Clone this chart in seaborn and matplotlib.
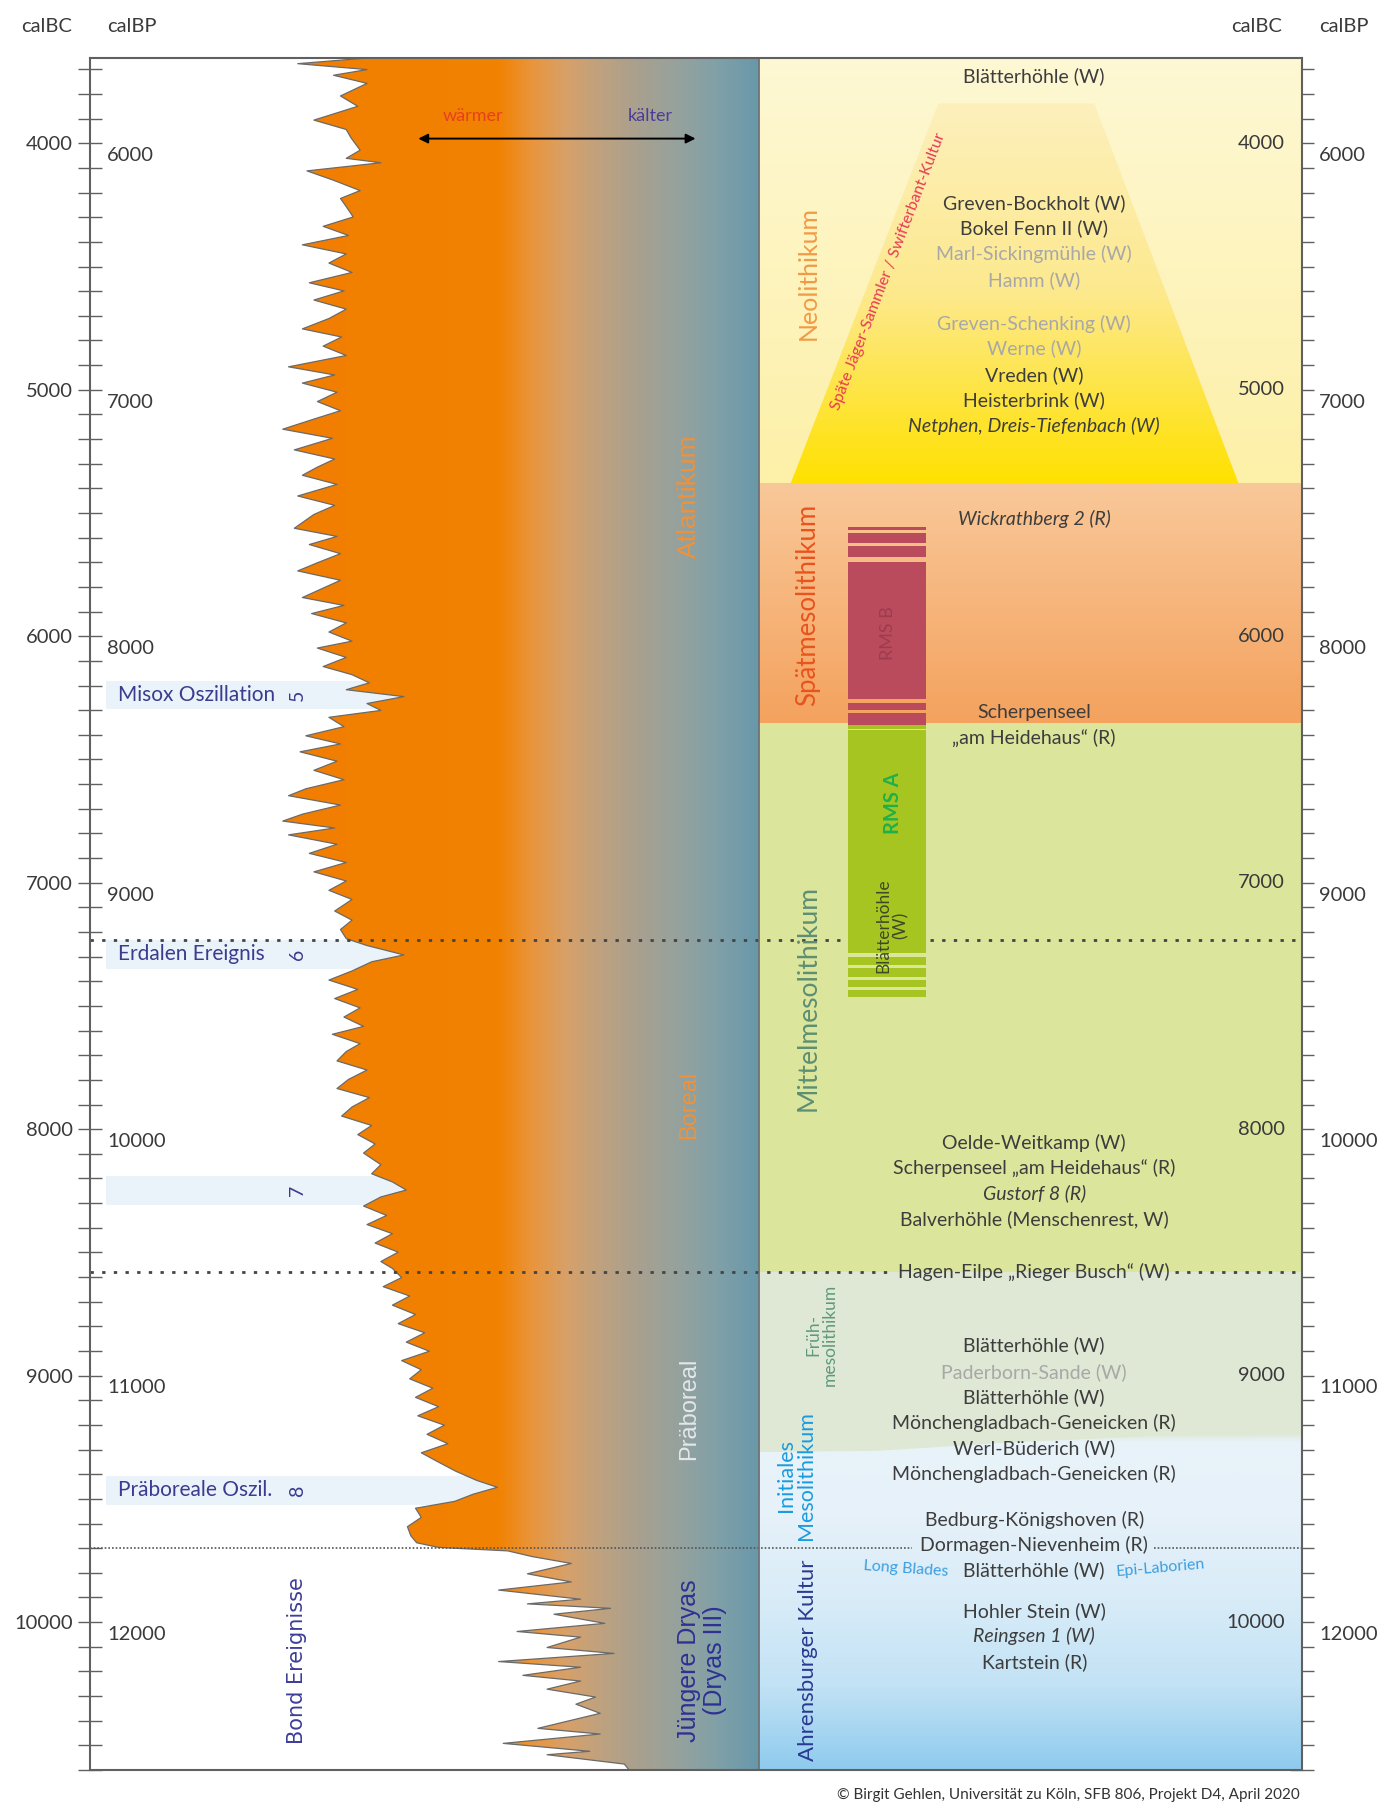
import matplotlib
matplotlib.use("Agg")
import matplotlib.pyplot as plt
from matplotlib.colors import LinearSegmentedColormap, to_rgb
from matplotlib.patches import Polygon
from matplotlib.ticker import MultipleLocator
import numpy as np
import seaborn as sns

sns.set_style("white")
plt.rcParams["font.family"] = ["Lato", "DejaVu Sans"]

# climate curve: age (calBC) and position of the warm edge (left = wärmer)
curve_age = [3654, 3677, 3701, 3724, 3757, 3808, 3850, 3906, 3944, 3977, 4028, 4061, 4079, 4112, 4150,
             4192, 4224, 4257, 4299, 4337, 4374, 4412, 4449, 4486, 4524, 4566, 4599, 4636, 4673, 4711,
             4753, 4786, 4823, 4861, 4907, 4940, 4973, 5010, 5048, 5085, 5122, 5160, 5197, 5244, 5281,
             5314, 5347, 5384, 5431, 5469, 5506, 5562, 5595, 5628, 5665, 5702, 5735, 5773, 5805, 5843,
             5875, 5908, 5946, 5983, 6020, 6048, 6086, 6123, 6156, 6189, 6217, 6245, 6273, 6301, 6329,
             6367, 6404, 6437, 6469, 6507, 6544, 6582, 6619, 6647, 6685, 6722, 6750, 6778, 6806, 6844,
             6881, 6918, 6956, 6993, 7031, 7068, 7115, 7152, 7190, 7227, 7255, 7293, 7321, 7358, 7395,
             7433, 7470, 7508, 7545, 7583, 7615, 7653, 7685, 7723, 7760, 7798, 7835, 7872, 7910, 7947,
             7985, 8022, 8060, 8097, 8144, 8181, 8214, 8247, 8275, 8312, 8350, 8387, 8424, 8462, 8499,
             8537, 8565, 8602, 8639, 8677, 8714, 8752, 8789, 8826, 8864, 8901, 8939, 8976, 9013, 9051,
             9088, 9126, 9163, 9201, 9238, 9276, 9313, 9351, 9388, 9425, 9453, 9481, 9510, 9538, 9575,
             9613, 9650, 9678, 9697, 9711, 9734, 9762, 9804, 9837, 9870, 9907, 9926, 9944, 9968, 10005,
             10038, 10061, 10103, 10127, 10160, 10183, 10216, 10239, 10272, 10304, 10333, 10370, 10431,
             10454, 10492, 10524, 10538, 10576, 10600]
curve_pos = [318, 258, 318, 289, 318, 295, 310, 272, 300, 304, 312, 300, 330, 266, 289,
             312, 295, 300, 306, 280, 302, 262, 300, 285, 305, 268, 298, 272, 300, 285,
             262, 296, 280, 300, 250, 290, 262, 292, 275, 295, 270, 245, 288, 255, 290,
             275, 262, 292, 258, 290, 272, 255, 292, 268, 295, 275, 258, 295, 280, 262,
             298, 270, 300, 285, 305, 275, 300, 280, 305, 320, 300, 350, 318, 330, 285,
             298, 265, 295, 260, 292, 272, 298, 265, 250, 295, 262, 245, 290, 250, 292,
             268, 300, 272, 300, 285, 305, 290, 305, 295, 300, 318, 350, 322, 305, 285,
             310, 290, 312, 298, 315, 288, 312, 300, 292, 318, 302, 292, 320, 305, 296,
             322, 310, 325, 315, 330, 322, 340, 352, 330, 315, 335, 318, 340, 325, 345,
             330, 340, 348, 332, 355, 340, 360, 345, 368, 352, 372, 348, 365, 355, 375,
             360, 380, 362, 385, 370, 388, 365, 380, 395, 413, 431, 410, 394, 360, 365,
             353, 356, 361, 380, 440, 461, 495, 457, 495, 432, 503, 457, 529, 480, 524,
             448, 503, 474, 532, 432, 503, 453, 503, 474, 516, 499, 520, 466,
             520, 436, 511, 474, 541, 545]

bc_ticks = [4000, 5000, 6000, 7000, 8000, 9000, 10000]
bp_ticks = [6000, 7000, 8000, 9000, 10000, 11000, 12000]

# Bond events
bond_names = ["Misox Oszillation", "Erdalen Ereignis", "", "Präboreale Oszil."]
bond_nums = ["5", "6", "7", "8"]
bond_start = [6180, 7232, 8191, 9407]
bond_end = [6296, 7349, 8307, 9524]

# climate zones
zone_names = ["Atlantikum", "Boreal", "Präboreal", "Jüngere Dryas\n(Dryas III)"]
zone_age = [5431, 7901, 9135, 10155]

# cultural periods
period_names = ["Neolithikum", "Spätmesolithikum", "Mittelmesolithikum", "Früh-\nmesolithikum",
                "Initiales\nMesolithikum", "Ahrensburger Kultur"]
period_age = [4528, 5875, 7466, 8836, 9407, 10155]
neo_end = 5380
spaet_end = 6352
mittel_end = 8580
yd_start = 9700
event_line = 7232

# RMS column
rms_b_start = [5558, 5582, 5635, 5700, 6272, 6312]
rms_b_end = [5570, 5623, 5679, 6256, 6300, 6361]
rms_a_start = [6361, 6381, 7302, 7347, 7396, 7436]
rms_a_end = [6376, 7286, 7335, 7383, 7424, 7465]

# sites
site_names = ["Blätterhöhle (W)", "Greven-Bockholt (W)", "Bokel Fenn II (W)", "Marl-Sickingmühle (W)",
              "Hamm (W)", "Greven-Schenking (W)", "Werne (W)", "Vreden (W)", "Heisterbrink (W)",
              "Netphen, Dreis-Tiefenbach (W)", "Wickrathberg 2 (R)", "Scherpenseel", "„am Heidehaus“ (R)",
              "Oelde-Weitkamp (W)", "Scherpenseel „am Heidehaus“ (R)", "Gustorf 8 (R)",
              "Balverhöhle (Menschenrest, W)", "Hagen-Eilpe „Rieger Busch“ (W)", "Blätterhöhle (W)",
              "Paderborn-Sande (W)", "Blätterhöhle (W)", "Mönchengladbach-Geneicken (R)",
              "Werl-Büderich (W)", "Mönchengladbach-Geneicken (R)", "Bedburg-Königshoven (R)",
              "Dormagen-Nievenheim (R)", "Blätterhöhle (W)", "Hohler Stein (W)", "Reingsen 1 (W)",
              "Kartstein (R)"]
site_age = [3729, 4243, 4346, 4449, 4557, 4734, 4832, 4940, 5043, 5146, 5525, 6310, 6413, 8055, 8158,
            8261, 8364, 8579, 8878, 8986, 9089, 9191, 9294, 9397, 9584, 9687, 9790, 9954, 10057, 10164]
site_italic = ["Netphen, Dreis-Tiefenbach (W)", "Wickrathberg 2 (R)", "Gustorf 8 (R)", "Reingsen 1 (W)"]
site_faded = ["Marl-Sickingmühle (W)", "Hamm (W)", "Greven-Schenking (W)", "Werne (W)", "Paderborn-Sande (W)"]

# layout (x in panel units)
X0, X1, XD = 78, 1128, 658
TOP, BOT = 3654, 10600
FR = (XD - X0) / (X1 - X0)

fig, ax = plt.subplots(figsize=(13.81, 18.07), dpi=100)
fig.subplots_adjust(left=90 / 1381, right=1302 / 1381, bottom=37 / 1807, top=1 - 58 / 1807)


def grad(x0, x1, y0, y1, stops, horizontal=False, clip=None, z=1, fade=0):
    cmap = LinearSegmentedColormap.from_list("g", stops)
    g = np.linspace(0, 1, 512)
    img = g[None, :] if horizontal else g[:, None]
    rgba = cmap(img)
    if fade:
        # soft upper edge
        rgba[..., 3] = np.clip(img / fade, 0, 1)
    im = ax.imshow(rgba, extent=[x0, x1, y1, y0], origin="upper",
                   aspect="auto", interpolation="bilinear", zorder=z)
    if clip is not None:
        im.set_clip_path(clip)
    return im


# ---- right panel backgrounds ----
grad(XD, X1, TOP, neo_end, ["#fef8d4", "#fdf0a8"], z=0.6)
trap = Polygon([(813, 3838), (948, 3838), (1073, neo_end), (685, neo_end)], closed=True,
               transform=ax.transData)
grad(685, 1073, 3838, neo_end, ["#fcf0bc", "#fde98e", "#ffe100"], clip=trap, z=0.7)
grad(XD, X1, neo_end, spaet_end, ["#f9c899", "#f4a25e"], z=0.6)
ax.axhspan(spaet_end, mittel_end, xmin=FR, xmax=1, color="#dce59c", lw=0, zorder=0.6)
ax.axhspan(mittel_end, 9500, xmin=FR, xmax=1, color="#dfe8d4", lw=0, zorder=0.6)
blue = Polygon([(XD, 9310), (760, 9305), (880, 9270), (1000, 9245), (X1, 9235), (X1, BOT), (XD, BOT)],
               closed=True, transform=ax.transData)
grad(XD, X1, 9235, BOT, ["#e9f3f9", "#e6f1f9", "#d8ecf8", "#c2e2f5", "#8ecbee"], clip=blue, z=0.7,
     fade=0.025)

# ---- Bond event bands ----
for s, e in zip(bond_start, bond_end):
    ax.axhspan(s, e, xmin=(92 - X0) / (X1 - X0), xmax=FR, color="#eaf2fa", lw=0, zorder=0.5)

# ---- climate curve with gradient fill ----
coll = ax.fill_betweenx(curve_age, curve_pos, XD, color="none", lw=0)
fill_path = coll.get_paths()[0]
im = grad(X0, XD, TOP, BOT, [(0, "#f07a00"), (0.61, "#f28200"), (0.66, "#e9953c"),
                             (0.71, "#d8a068"), (0.76, "#c0a27e"), (0.81, "#aca08c"),
                             (0.875, "#97a29c"), (0.94, "#80a0a8"), (1, "#6898aa")],
            horizontal=True, z=2)
im.set_clip_path(fill_path, ax.transData)
sns.lineplot(x=curve_pos, y=curve_age, orient="y", sort=False, estimator=None,
             color="#6a6a6a", lw=0.9, ax=ax, zorder=2.2)

# ---- dotted lines ----
ax.hlines(event_line, X0, X1, colors="#444444", linestyles=(0, (1.2, 3)), lw=2, zorder=2.5)
ax.hlines([mittel_end, mittel_end], [X0, 1018], [775, X1], colors="#444444",
          linestyles=(0, (1.2, 3)), lw=2, zorder=2.5)
ax.hlines([yd_start, yd_start], [X0, 1000], [790, X1], colors="#555555",
          linestyles=(0, (1, 1.2)), lw=1.2, zorder=2.5)
ax.axvline(XD, color="#707070", lw=1.2, zorder=5)

# ---- RMS column ----
ax.barh([(s + e) / 2 for s, e in zip(rms_b_start, rms_b_end)], 67,
        height=[e - s for s, e in zip(rms_b_start, rms_b_end)], left=735, color="#b94b5d", lw=0, zorder=3)
ax.barh([(s + e) / 2 for s, e in zip(rms_a_start, rms_a_end)], 67,
        height=[e - s for s, e in zip(rms_a_start, rms_a_end)], left=735, color="#a7c520", lw=0, zorder=3)
ax.text(769, 5988, "RMS B", rotation=90, ha="center", va="center", fontsize=13, color="#9c3c4e", zorder=4)
ax.text(774, 6677, "RMS A", rotation=90, ha="center", va="center", fontsize=14.5, color="#1fb04a",
        fontweight="bold", zorder=4)
ax.text(773, 7175, "Blätterhöhle\n(W)", rotation=90, ha="center", va="center", fontsize=12.5,
        color="#3c4a28", linespacing=1.1, zorder=4)

# ---- texts left panel ----
ax.annotate("", xy=(360, 3981), xytext=(605, 3981),
            arrowprops=dict(arrowstyle="<|-|>", color="black", lw=1.4, mutation_scale=14), zorder=4)
ax.text(410, 3888, "wärmer", ha="center", va="center", fontsize=13, color="#e8401c", zorder=4)
ax.text(563, 3888, "kälter", ha="center", va="center", fontsize=13, color="#4b3c9c", zorder=4)

for name, num, s, e in zip(bond_names, bond_nums, bond_start, bond_end):
    if name:
        ax.text(102, (s + e) / 2, name, ha="left", va="center", fontsize=15, color="#3b3b8f", zorder=4)
    ax.text(258, (s + e) / 2, num, ha="center", va="center", rotation=90, fontsize=14,
            color="#3b3b8f", zorder=4)
ax.text(257, 10155, "Bond Ereignisse", rotation=90, ha="center", va="center", fontsize=15,
        family="DejaVu Sans", color="#3e3e9a", zorder=4)

zone_x = [597, 597, 597, 608]
zone_colors = ["#f0913a", "#f0913a", "#e4e6ec", "#2e3192"]
zone_sizes = [19, 17, 17, 18]
for name, age, x, c, fs in zip(zone_names, zone_age, zone_x, zone_colors, zone_sizes):
    ax.text(x, age, name, rotation=90, ha="center", va="center", fontsize=fs, color=c,
            family="Liberation Sans", linespacing=1.1, zorder=4)

# ---- texts right panel ----
period_x = [700, 700, 700, 712, 690, 700]
period_colors = ["#f29a45", "#e9531d", "#5c8f73", "#5f9a7c", "#1a9be0", "#2b3990"]
period_sizes = [18, 18.5, 19, 12.5, 15.5, 16]
for name, age, x, c, fs in zip(period_names, period_age, period_x, period_colors, period_sizes):
    ax.text(x, age, name, rotation=90, ha="center", va="center", fontsize=fs, color=c,
            linespacing=1.0, zorder=4)
ax.text(770, 4520, "Späte Jäger-Sammler / Swifterbant-Kultur", rotation=69, ha="center", va="center",
        rotation_mode="anchor", fontsize=11.5, color="#e83a55", zorder=4)

for name, age in zip(site_names, site_age):
    ax.text(896, age, name, ha="center", va="center", fontsize=14,
            style="italic" if name in site_italic else "normal",
            color="#a8a8a8" if name in site_faded else "#3d3d3d", zorder=4)
ax.text(785, 9785, "Long Blades", ha="center", va="center", rotation=-4, fontsize=11.5, color="#3b9fe0", zorder=4)
ax.text(1005, 9780, "Epi-Laborien", ha="center", va="center", rotation=5, fontsize=11.5, color="#3b9fe0", zorder=4)

# ---- axes / ticks ----
ax.set_xlim(X0, X1)
ax.set_ylim(BOT, TOP)
ax.set_xlabel("")
ax.set_ylabel("")
ax.set_xticks([])
ax.set_yticks(bc_ticks)
ax.yaxis.set_minor_locator(MultipleLocator(100))
ax.tick_params(axis="y", which="both", direction="inout", length=17, width=1, colors="#606060",
               left=True, right=True, labelleft=True, labelright=False, pad=3.7)
ax.tick_params(axis="y", labelsize=14.5, labelcolor="#3a3a3a")
for sp in ax.spines.values():
    sp.set_color("#606060")
    sp.set_linewidth(1.5)
    sp.set_zorder(6)

for bc in bc_ticks:
    ax.text(1113, bc, str(bc), ha="right", va="center", fontsize=14.5, color="#3a3a3a", zorder=4)
for bp in bp_ticks:
    ax.text(93, bp - 1950, str(bp), ha="left", va="center", fontsize=14.5, color="#3a3a3a", zorder=4)
    ax.text(1143, bp - 1950, str(bp), ha="left", va="center", fontsize=14.5, color="#3a3a3a",
            clip_on=False, zorder=4)

fig.text(47 / 1381, 1 - 27 / 1807, "calBC", ha="center", va="center", fontsize=14.5, color="#3a3a3a")
fig.text(132 / 1381, 1 - 27 / 1807, "calBP", ha="center", va="center", fontsize=14.5, color="#3a3a3a")
fig.text(1257 / 1381, 1 - 27 / 1807, "calBC", ha="center", va="center", fontsize=14.5, color="#3a3a3a")
fig.text(1344 / 1381, 1 - 27 / 1807, "calBP", ha="center", va="center", fontsize=14.5, color="#3a3a3a")
fig.text(1300 / 1381, 1 - 1795 / 1807, "© Birgit Gehlen, Universität zu Köln, SFB 806, Projekt D4, April 2020",
         ha="right", va="center", fontsize=11, color="#333333")

fig.savefig("out.png", dpi=100, facecolor="white")
